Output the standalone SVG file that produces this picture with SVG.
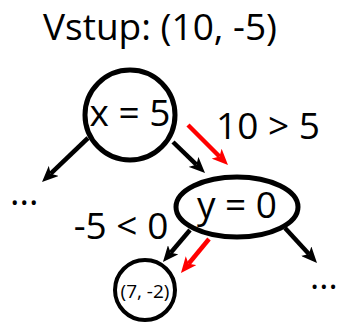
<svg xmlns="http://www.w3.org/2000/svg" width="339" height="325" viewBox="0 0 339 325">
<defs>
<style>
text{font-family:"Open Sans","Noto Sans",sans-serif;fill:#000}
.node{fill:#fff;stroke:#000}
.blk{stroke:#000;stroke-width:4.5;fill:none;marker-end:url(#ah)}
.red{stroke:#ff0000;stroke-width:4.5;fill:none;marker-end:url(#ahr)}
</style>
<marker id="ah" viewBox="0 0 16 14" refX="4" refY="7" markerWidth="16" markerHeight="14" markerUnits="userSpaceOnUse" orient="auto"><path d="M0,0 L16,7 L0,14 L4,7 Z" fill="#000"/></marker>
<marker id="ahr" viewBox="0 0 16 14" refX="4" refY="7" markerWidth="16" markerHeight="14" markerUnits="userSpaceOnUse" orient="auto"><path d="M0,0 L16,7 L0,14 L4,7 Z" fill="#ff0000"/></marker>
</defs>
<text x="160" y="40" font-size="37" text-anchor="middle">Vstup: (10, -5)</text>
<g id="connectors">
<line class="blk" x1="88" y1="138" x2="50.7" y2="173.7"/>
<line class="blk" x1="173" y1="142" x2="196.4" y2="164.7"/>
<line class="red" x1="188" y1="125" x2="219.5" y2="156.5"/>
<line class="blk" x1="190" y1="230" x2="170.7" y2="252.8"/>
<line class="red" x1="209" y1="239" x2="188.6" y2="263.7"/>
<line class="blk" x1="285" y1="228" x2="308.9" y2="254.1"/>
</g>
<g id="node-x">
<circle class="node" cx="130" cy="115" r="45" stroke-width="5"/>
<text x="130" y="126" font-size="37" text-anchor="middle">x = 5</text>
</g>
<g id="node-y">
<ellipse class="node" cx="237" cy="207" rx="61" ry="30" stroke-width="5"/>
<text x="237" y="218" font-size="37" text-anchor="middle">y = 0</text>
</g>
<g id="node-leaf">
<circle class="node" cx="145" cy="290" r="30" stroke-width="4"/>
<text x="145" y="298" font-size="19" text-anchor="middle">(7, -2)</text>
</g>
<g id="label-left-dots"><text x="10" y="205" font-size="36">...</text></g>
<g id="label-right-dots"><text x="310" y="289" font-size="35">...</text></g>
<text x="268" y="139" font-size="37" text-anchor="middle">10 &gt; 5</text>
<text x="121" y="239" font-size="37" text-anchor="middle">-5 &lt; 0</text>
</svg>
